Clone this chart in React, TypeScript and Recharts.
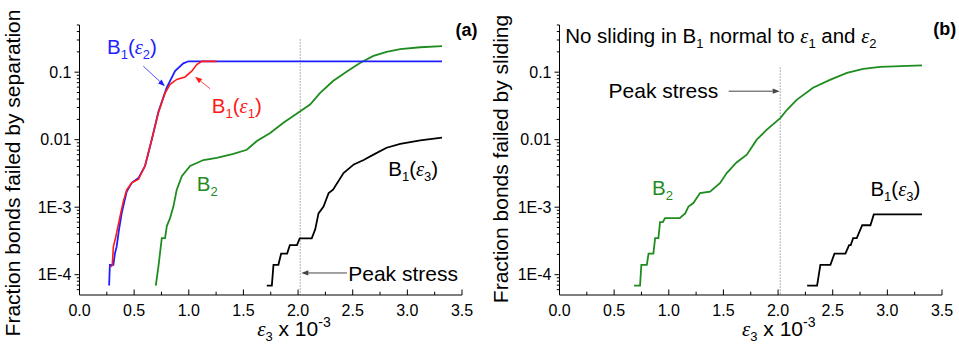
import React from 'react';
import { LineChart, Line, XAxis, YAxis, ReferenceLine, ReferenceDot } from 'recharts';

// ---------- tick values ----------
const xTicks = [0, 0.25, 0.5, 0.75, 1, 1.25, 1.5, 1.75, 2, 2.25, 2.5, 2.75, 3, 3.25, 3.5];
const xMajorTicks = [0, 0.5, 1, 1.5, 2, 2.5, 3, 3.5];
const xMajorLabels = ['0.0', '0.5', '1.0', '1.5', '2.0', '2.5', '3.0', '3.5'];
const yMajorTicks = [0.0001, 0.001, 0.01, 0.1];
const yMajorLabels = ['1E-4', '1E-3', '0.01', '0.1'];
const yMinorTicks = [
  0.00006, 0.00007, 0.00008, 0.00009,
  0.0002, 0.0003, 0.0004, 0.0005, 0.0006, 0.0007, 0.0008, 0.0009,
  0.002, 0.003, 0.004, 0.005, 0.006, 0.007, 0.008, 0.009,
  0.02, 0.03, 0.04, 0.05, 0.06, 0.07, 0.08, 0.09,
  0.2, 0.3, 0.4, 0.5,
];
const yTicks = [...yMajorTicks, ...yMinorTicks];

// ---------- panel (a): failed by separation ----------
const sepB1e2X = [0.271, 0.278, 0.31, 0.325, 0.34, 0.36, 0.386, 0.41, 0.432, 0.478, 0.539, 0.6, 0.661, 0.722, 0.798, 0.874, 0.95, 0.997, 3.317];
const sepB1e2Y = [0.000069, 0.00014, 0.00014, 0.00021, 0.00026, 0.00045, 0.00081, 0.0012, 0.0017, 0.0023, 0.0027, 0.0041, 0.01, 0.026, 0.059, 0.104, 0.135, 0.145, 0.145];

const sepB1e1X = [0.29, 0.3, 0.31, 0.33, 0.34, 0.36, 0.37, 0.4, 0.432, 0.478, 0.54, 0.6, 0.661, 0.722, 0.78, 0.829, 0.89, 0.966, 1.027, 1.073, 1.119, 1.256];
const sepB1e1Y = [0.00013, 0.00014, 0.00026, 0.00035, 0.00042, 0.0006, 0.00072, 0.0012, 0.0018, 0.0023, 0.0026, 0.0041, 0.01, 0.025, 0.048, 0.066, 0.078, 0.085, 0.1035, 0.13, 0.1445, 0.1445];

const sepB2X = [0.698, 0.722, 0.753, 0.783, 0.799, 0.829, 0.859, 0.89, 0.936, 1.012, 1.134, 1.256, 1.408, 1.531, 1.623, 1.745, 1.866, 2.02, 2.11, 2.2, 2.32, 2.45, 2.57, 2.69, 2.81, 2.935, 3.118, 3.317];
const sepB2Y = [0.000069, 0.000132, 0.000347, 0.000347, 0.000525, 0.00069, 0.00102, 0.00182, 0.00288, 0.00407, 0.005, 0.00537, 0.00617, 0.00708, 0.00955, 0.0126, 0.0178, 0.0263, 0.0331, 0.049, 0.0741, 0.1035, 0.138, 0.174, 0.2, 0.219, 0.234, 0.243];

const sepB1e3X = [1.714, 1.76, 1.775, 1.82, 1.845, 1.9, 1.925, 1.99, 2.015, 2.125, 2.157, 2.187, 2.233, 2.28, 2.32, 2.416, 2.51, 2.6, 2.69, 2.81, 2.935, 3.118, 3.317];
const sepB1e3Y = [0.000069, 0.000069, 0.00014, 0.00014, 0.000205, 0.000205, 0.000275, 0.000275, 0.000345, 0.000345, 0.00047, 0.00081, 0.00102, 0.00162, 0.00182, 0.0032, 0.0043, 0.005, 0.006, 0.0076, 0.0087, 0.0098, 0.0107];

// ---------- panel (b): failed by sliding ----------
const slB2X = [0.682, 0.737, 0.749, 0.799, 0.815, 0.859, 0.875, 0.905, 0.92, 0.945, 0.966, 1.1, 1.15, 1.18, 1.225, 1.286, 1.378, 1.47, 1.53, 1.62, 1.714, 1.805, 1.897, 2.02, 2.08, 2.17, 2.32, 2.48, 2.63, 2.78, 2.935, 3.317];
const slB2Y = [0.000069, 0.000069, 0.00014, 0.00014, 0.000205, 0.000205, 0.000347, 0.000347, 0.0006, 0.0006, 0.00069, 0.00069, 0.00081, 0.00102, 0.00115, 0.00162, 0.0017, 0.00229, 0.0032, 0.0046, 0.006, 0.01, 0.0141, 0.0209, 0.0275, 0.0389, 0.0589, 0.0776, 0.0977, 0.112, 0.12, 0.126];

const slB1e3X = [2.266, 2.357, 2.387, 2.479, 2.516, 2.616, 2.65, 2.665, 2.687, 2.72, 2.77, 2.845, 2.876, 3.317];
const slB1e3Y = [0.000069, 0.000069, 0.00014, 0.00014, 0.000205, 0.000205, 0.000275, 0.000275, 0.000347, 0.000347, 0.00054, 0.00054, 0.00078, 0.00078];

const peakStrain = 2.02;

const zip = (xs: number[], ys: number[]) => xs.map((x, i) => ({ x, y: ys[i] }));

const BLUE = '#1f1fff';
const RED = '#ff1a1a';
const GREEN = '#1f8c1f';
const BLACK = '#000000';
const SANS = '"Liberation Sans", Arial, sans-serif';
const SERIF = '"Liberation Serif", "Times New Roman", serif';

const W = 480;
const H = 345;
const MARGIN = { top: 25, right: 18, bottom: 0, left: 0 };
const YAXIS_W = 79.5;
const XAXIS_H = 50;
const AXIS_X = MARGIN.left + YAXIS_W;
const AXIS_Y = H - MARGIN.bottom - XAXIS_H;

const XTick = (props: any) => {
  const { payload } = props;
  const cx = payload.coordinate;
  const idx = xMajorTicks.findIndex((m) => Math.abs(m - payload.value) < 1e-9);
  const major = idx >= 0;
  return (
    <g>
      <line x1={cx} x2={cx} y1={AXIS_Y} y2={AXIS_Y - (major ? 5.5 : 3.3)} stroke="#000" strokeWidth={1} />
      {major && (
        <text x={cx} y={AXIS_Y + 21} textAnchor="middle" fontSize={16} fontFamily={SANS} fill="#000">
          {xMajorLabels[idx]}
        </text>
      )}
    </g>
  );
};

const YTick = (props: any) => {
  const { payload } = props;
  const cy = payload.coordinate;
  const v = payload.value;
  const idx = yMajorTicks.findIndex((m) => Math.abs(m - v) / m < 1e-6);
  const major = idx >= 0;
  return (
    <g>
      <line x1={AXIS_X - (major ? 5 : 2.7)} x2={AXIS_X} y1={cy} y2={cy} stroke="#000" strokeWidth={1} />
      {major && (
        <text x={AXIS_X - 8} y={cy} dy="0.36em" textAnchor="end" fontSize={16} fontFamily={SANS} fill="#000">
          {yMajorLabels[idx]}
        </text>
      )}
    </g>
  );
};

const B1Label = (color: string, sub: string) => (p: any) => (
  <text x={p.cx} y={p.cy} fontSize={20.5} fontFamily={SANS} fill={color}>
    B<tspan fontSize={13} dy={5}>1</tspan>
    <tspan dy={-5}>(</tspan>
    <tspan fontFamily={SERIF} fontStyle="italic">ε</tspan>
    <tspan fontSize={13} dy={5}>{sub}</tspan>
    <tspan dy={-5}>)</tspan>
  </text>
);

const B2Label = (p: any) => (
  <text x={p.cx} y={p.cy} fontSize={20.5} fontFamily={SANS} fill={GREEN}>
    B<tspan fontSize={13} dy={5}>2</tspan>
  </text>
);

const PlainLabel = (txt: string, size: number, bold = false) => (p: any) => (
  <text x={p.cx} y={p.cy} fontSize={size} fontFamily={SANS} fontWeight={bold ? 'bold' : 'normal'} fill="#000">
    {txt}
  </text>
);

const NoSlidingLabel = (p: any) => (
  <text x={p.cx} y={p.cy} fontSize={20.5} fontFamily={SANS} fill="#000">
    No sliding in B<tspan fontSize={13} dy={5}>1</tspan>
    <tspan dy={-5}> normal to </tspan>
    <tspan fontFamily={SERIF} fontStyle="italic">ε</tspan>
    <tspan fontSize={13} dy={5}>1</tspan>
    <tspan dy={-5}> and </tspan>
    <tspan fontFamily={SERIF} fontStyle="italic">ε</tspan>
    <tspan fontSize={13} dy={5}>2</tspan>
  </text>
);

const XTitleShape = (p: any) => (
  <text x={p.cx} y={p.cy} fontSize={21} fontFamily={SANS} fill="#000">
    <tspan fontFamily={SERIF} fontStyle="italic">ε</tspan>
    <tspan fontSize={13} dy={5}>3</tspan>
    <tspan dy={-5}> x 10</tspan>
    <tspan fontSize={14} dy={-9}>-3</tspan>
  </text>
);

const ArrowShape = (color: string, width: number) => (p: any) => {
  const { x1, y1, x2, y2 } = p;
  if ([x1, y1, x2, y2].some((v) => typeof v !== 'number' || isNaN(v))) return <g />;
  const ang = Math.atan2(y2 - y1, x2 - x1);
  const len = 7;
  const half = 2.6;
  const bx = x2 - len * Math.cos(ang);
  const by = y2 - len * Math.sin(ang);
  const px = -Math.sin(ang) * half;
  const py = Math.cos(ang) * half;
  return (
    <g>
      <line x1={x1} y1={y1} x2={bx} y2={by} stroke={color} strokeWidth={width} />
      <polygon points={`${x2},${y2} ${bx + px},${by + py} ${bx - px},${by - py}`} fill={color} />
    </g>
  );
};

const yTitle = (txt: string, cx: number, cy: number) => () => (
  <text
    x={cx}
    y={cy}
    transform={`rotate(-90, ${cx}, ${cy})`}
    textAnchor="middle"
    fontSize={21}
    fontFamily={SANS}
    fill="#000"
  >
    {txt}
  </text>
);

const commonX = () => (
  <XAxis
    type="number"
    dataKey="x"
    domain={[0, 3.5]}
    ticks={xTicks}
    interval={0}
    tick={(p: any) => <XTick {...p} />}
    tickLine={false}
    axisLine={{ stroke: '#000', strokeWidth: 1 }}
    height={XAXIS_H}
    allowDataOverflow
  />
);

const commonY = (title: string, cx: number, cy: number) => (
  <YAxis
    type="number"
    dataKey="y"
    scale="log"
    domain={[0.00005, 0.5]}
    ticks={yTicks}
    interval={0}
    allowDataOverflow
    tick={(p: any) => <YTick {...p} />}
    tickLine={false}
    axisLine={{ stroke: '#000', strokeWidth: 1 }}
    width={YAXIS_W}
    label={{ content: yTitle(title, cx, cy) } as any}
  />
);

// data position of the x-axis title baseline (below the axis, drawn with overflow visible)
const xTitleY = 0.0000122;

const PanelA = () => (
  <LineChart width={W} height={H} margin={MARGIN}>
    {commonX()}
    {commonY('Fraction bonds failed by separation', 20, 173)}
    <ReferenceLine
      segment={[{ x: peakStrain, y: 0.305 }, { x: peakStrain, y: 0.00005 }]}
      stroke="#666"
      strokeDasharray="1 2"
      strokeWidth={1}
    />
    <Line data={zip(sepB2X, sepB2Y)} dataKey="y" type="linear" dot={false} stroke={GREEN} strokeWidth={1.8} isAnimationActive={false} />
    <Line data={zip(sepB1e3X, sepB1e3Y)} dataKey="y" type="linear" dot={false} stroke={BLACK} strokeWidth={1.8} isAnimationActive={false} />
    <Line data={zip(sepB1e2X, sepB1e2Y)} dataKey="y" type="linear" dot={false} stroke={BLUE} strokeWidth={1.8} isAnimationActive={false} />
    <Line data={zip(sepB1e1X, sepB1e1Y)} dataKey="y" type="linear" dot={false} stroke={RED} strokeWidth={1.6} isAnimationActive={false} />
    <ReferenceLine segment={[{ x: 0.584, y: 0.1228 }, { x: 0.782, y: 0.0619 }]} shape={ArrowShape(BLUE, 0.8)} ifOverflow="visible" />
    <ReferenceLine segment={[{ x: 1.195, y: 0.0568 }, { x: 1.058, y: 0.0855 }]} shape={ArrowShape(RED, 0.8)} ifOverflow="visible" />
    <ReferenceLine segment={[{ x: 2.447, y: 0.000106 }, { x: 2.03, y: 0.000106 }]} shape={ArrowShape('#444', 1)} ifOverflow="visible" />
    <ReferenceDot x={0.252} y={0.189} r={0} ifOverflow="visible" shape={B1Label(BLUE, '2')} />
    <ReferenceDot x={1.211} y={0.025} r={0} ifOverflow="visible" shape={B1Label(RED, '1')} />
    <ReferenceDot x={1.073} y={0.00171} r={0} ifOverflow="visible" shape={B2Label} />
    <ReferenceDot x={2.825} y={0.00293} r={0} ifOverflow="visible" shape={B1Label(BLACK, '3')} />
    <ReferenceDot x={2.459} y={0.000081} r={0} ifOverflow="visible" shape={PlainLabel('Peak stress', 21)} />
    <ReferenceDot x={3.44} y={0.339} r={0} ifOverflow="visible" shape={PlainLabel('(a)', 18, true)} />
    <ReferenceDot x={1.626} y={xTitleY} r={0} ifOverflow="visible" shape={XTitleShape} />
  </LineChart>
);

const PanelB = () => (
  <LineChart width={W} height={H} margin={MARGIN}>
    {commonX()}
    {commonY('Fraction bonds failed by sliding', 28, 159)}
    <ReferenceLine
      segment={[{ x: peakStrain, y: 0.117 }, { x: peakStrain, y: 0.00005 }]}
      stroke="#666"
      strokeDasharray="1 2"
      strokeWidth={1}
    />
    <Line data={zip(slB2X, slB2Y)} dataKey="y" type="linear" dot={false} stroke={GREEN} strokeWidth={1.8} isAnimationActive={false} />
    <Line data={zip(slB1e3X, slB1e3Y)} dataKey="y" type="linear" dot={false} stroke={BLACK} strokeWidth={1.8} isAnimationActive={false} />
    <ReferenceLine segment={[{ x: 1.548, y: 0.0523 }, { x: 2.015, y: 0.0523 }]} shape={ArrowShape('#444', 1)} ifOverflow="visible" />
    <ReferenceDot x={0.052} y={0.267} r={0} ifOverflow="visible" shape={NoSlidingLabel} />
    <ReferenceDot x={3.42} y={0.36} r={0} ifOverflow="visible" shape={PlainLabel('(b)', 18, true)} />
    <ReferenceDot x={0.449} y={0.0417} r={0} ifOverflow="visible" shape={PlainLabel('Peak stress', 21)} />
    <ReferenceDot x={0.846} y={0.00153} r={0} ifOverflow="visible" shape={B2Label} />
    <ReferenceDot x={2.845} y={0.00145} r={0} ifOverflow="visible" shape={B1Label(BLACK, '3')} />
    <ReferenceDot x={1.67} y={xTitleY} r={0} ifOverflow="visible" shape={XTitleShape} />
  </LineChart>
);

export default function App() {
  return (
    <div style={{ position: 'absolute', left: 0, top: 0, width: 959, height: 345, background: '#fff' }}>
      <div style={{ position: 'absolute', left: 0, top: 0 }}>
        <PanelA />
      </div>
      <div style={{ position: 'absolute', left: 480, top: 0 }}>
        <PanelB />
      </div>
    </div>
  );
}
